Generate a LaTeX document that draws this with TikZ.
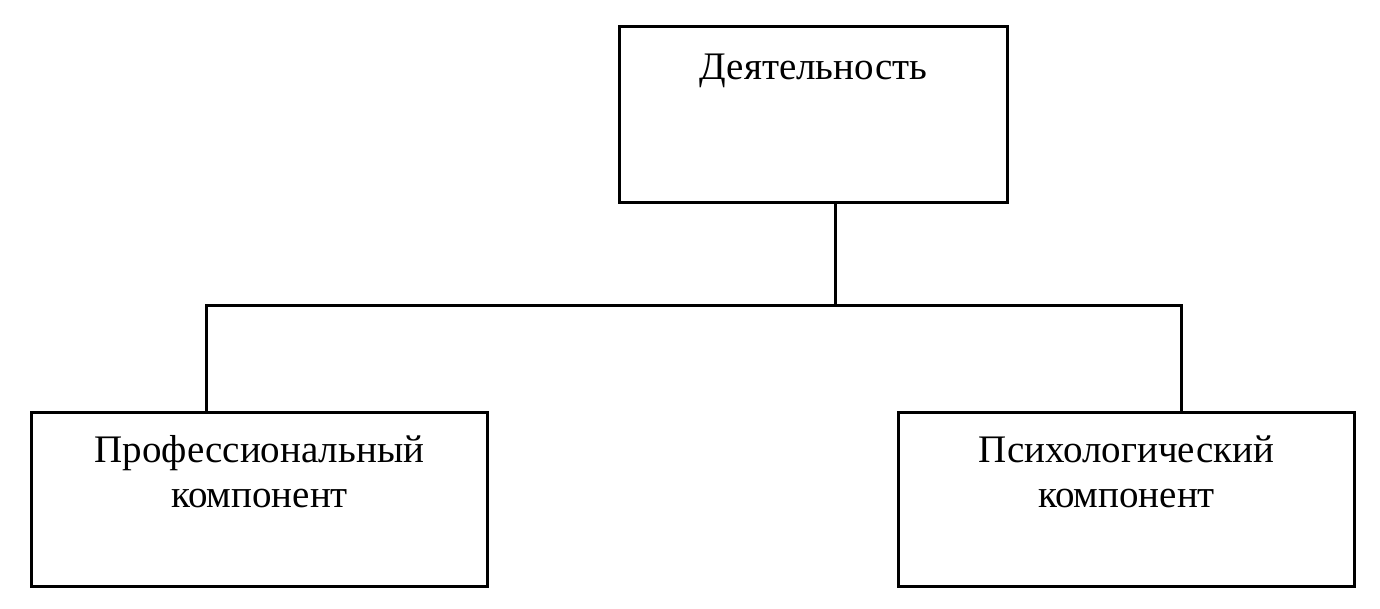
\documentclass[tikz,border=0pt]{standalone}
\usepackage{fontspec}
\setmainfont{Liberation Serif}
\usepackage{tikz}
\usetikzlibrary{positioning}

\begin{document}
\begin{tikzpicture}[
  x=0.5pt, y=-0.5pt,
  font=\fontsize{19.5}{22.5}\selectfont,
  block/.style={draw, line width=1.5pt, inner sep=0pt, anchor=north west},
  top/.style={block, minimum width=194pt, text height=26.5pt, text depth=61.5pt},
  low/.style={block, minimum width=228pt, text height=25pt, text depth=62pt},
  link/.style={draw, line width=1.5pt}
]
\useasboundingbox (0,0) rectangle (1380,609);
\node[top] (act) at (618,25) {Деятельность};
\node[low] (prof) at (30,411)
  {\begin{tabular}[t]{@{}c@{}}Профессиональный\\компонент\end{tabular}};
\node[low] (psy) at (897,411)
  {\begin{tabular}[t]{@{}c@{}}Психологический\\компонент\end{tabular}};
\coordinate (hub) at (835,305);
\coordinate (lft) at (206,305);
\coordinate (rgt) at (1181,305);
\draw[link] (act.south -| hub) -- (hub);
\draw[link] (prof.north -| lft) -- (lft) -- (rgt) -- (psy.north -| rgt);
\end{tikzpicture}
\end{document}
